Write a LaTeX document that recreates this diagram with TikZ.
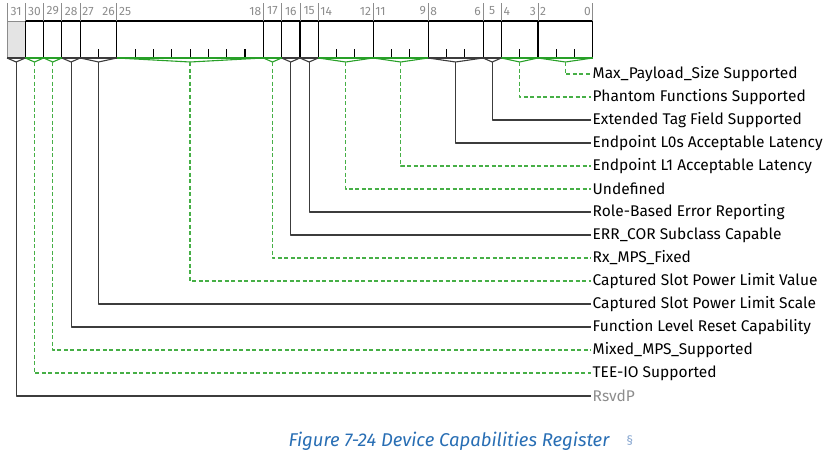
\documentclass[tikz,border=0pt]{standalone}
\usepackage{fontspec}
\setmainfont{Fira Sans}
\usetikzlibrary{positioning}
\definecolor{regGreen}{RGB}{40,160,40}
\definecolor{dashGreen}{RGB}{70,175,70}
\definecolor{regLine}{RGB}{60,60,60}
\definecolor{hdrGray}{RGB}{140,140,140}
\definecolor{rsvFill}{RGB}{228,228,228}
\definecolor{capBlue}{RGB}{40,110,180}
\definecolor{sectBlue}{RGB}{140,170,210}
\begin{document}
\begin{tikzpicture}[x=1pt,y=-1pt,line join=round,
	hdr/.style={font=\fontsize{12}{13}\selectfont,text=hdrGray,inner sep=0pt},
	hdrtick/.style={hdrGray,line width=0.9pt},
	boxline/.style={black,line width=1.1pt},
	lbl/.style={anchor=west,font=\fontsize{15.5}{17}\selectfont,inner sep=1.5pt},
	ro-edge/.style={regLine,line width=1.1pt},
	rsv-edge/.style={ro-edge},
	rw-edge/.style={regGreen,line width=1.1pt},
	ro-link/.style={regLine,line width=1.1pt},
	rsv-link/.style={ro-link},
	rw-link/.style={dashGreen,line width=1.4pt,dash pattern=on 4pt off 2.5pt},
	ro-text/.style={},
	rsv-text/.style={text=hdrGray},
	rw-text/.style={}]
	\useasboundingbox (0,0) rectangle (830,455);
	% reserved bit 31 and the outer frame
	\draw[fill=rsvFill,draw=hdrGray,line width=1pt] (7,21) rectangle (25.31,58);
	\draw[boxline] (25.31,21) -- (592.7,21) -- (592.7,58);
	\draw[hdrtick] (592.7,3) -- (592.7,21);
	% fields: hi/lo/kind/row/label
	\foreach \hi/\lo/\kind/\row/\txt in {
		2/0/rw/74/Max\_Payload\_Size Supported,
		4/3/rw/97/Phantom Functions Supported,
		5/5/ro/120/Extended Tag Field Supported,
		8/6/ro/143/Endpoint L0s Acceptable Latency,
		11/9/rw/166/Endpoint L1 Acceptable Latency,
		14/12/rw/189/Undefined,
		15/15/ro/212/Role-Based Error Reporting,
		16/16/ro/235/ERR\_COR Subclass Capable,
		17/17/rw/258/Rx\_MPS\_Fixed,
		25/18/rw/281/Captured Slot Power Limit Value,
		27/26/ro/304/Captured Slot Power Limit Scale,
		28/28/ro/327/Function Level Reset Capability,
		29/29/rw/350/Mixed\_MPS\_Supported,
		30/30/rw/373/TEE-IO Supported,
		31/31/rsv/396/RsvdP}{
		\pgfmathsetmacro\xl{7+(31-\hi)*18.31}
		\pgfmathsetmacro\xr{7+(32-\lo)*18.31}
		\pgfmathsetmacro\xc{(\xl+\xr)/2}
		\pgfmathtruncatemacro\lop{\lo+1}
		% bit numbers
		\draw[hdrtick] (\xl,3) -- (\xl,21);
		\ifnum\hi=\lo
			\node[hdr] at (\xc,11) {\hi};
		\else
			\node[hdr,anchor=west] at (\xl+2,11) {\hi};
			\node[hdr,anchor=east] at (\xr-2,11) {\lo};
			\foreach \b in {\lop,...,\hi}{
				\pgfmathsetmacro\xt{7+(32-\b)*18.31}
				\draw[boxline] (\xt,49) -- (\xt,58);
			}
		\fi
		\ifnum\hi<31
			\draw[boxline] (\xl,21) -- (\xl,58);
		\fi
		\draw[\kind-edge] (\xl,58) -- (\xr,58);
		\draw[\kind-edge] (\xl,58) -- (\xc,62) -- (\xr,58);
		\coordinate (tip\hi) at (\xc,62);
		\node[lbl,\kind-text] (name\hi) at (591,\row) {\txt};
		\draw[\kind-link] (tip\hi) |- (name\hi.west);
	}
	% caption
	\node[text=capBlue,font=\itshape\fontsize{18.5}{20}\selectfont] (cap) at (449,441) {Figure 7-24 Device Capabilities Register};
	\node[text=sectBlue,font=\fontsize{13}{15}\selectfont,right=10pt of cap] (sect) {§};
\end{tikzpicture}
\end{document}
